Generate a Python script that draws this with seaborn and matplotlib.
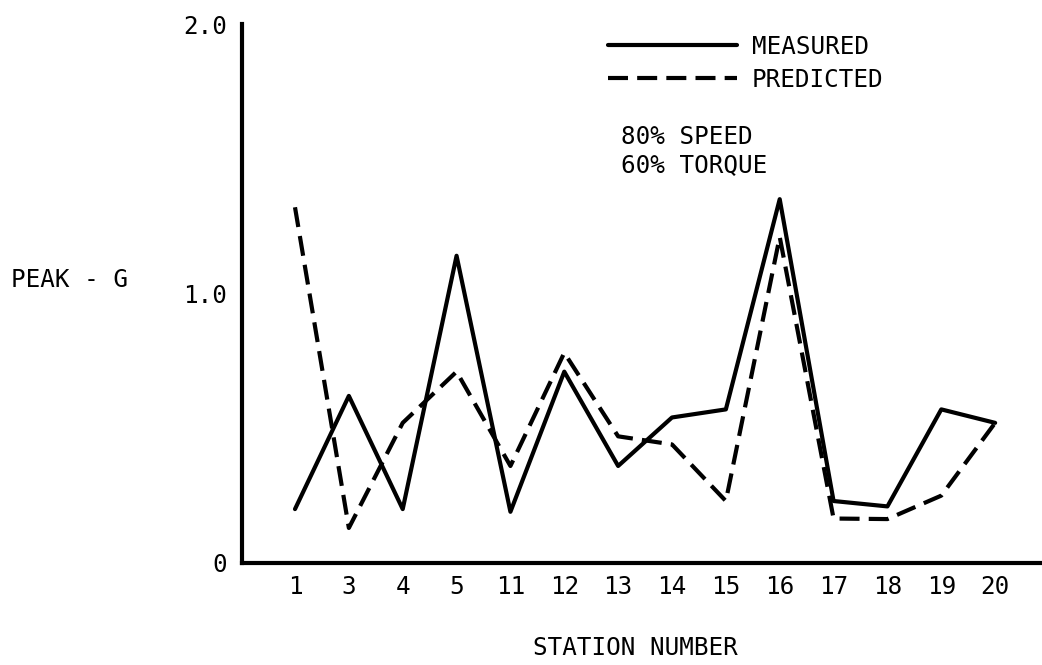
import numpy as np
import pandas as pd
import matplotlib
matplotlib.use("Agg")
import matplotlib.pyplot as plt
import seaborn as sns

stations = ["1", "3", "4", "5", "11", "12", "13", "14", "15", "16", "17", "18", "19", "20"]
measured = [0.20, 0.62, 0.20, 1.14, 0.19, 0.71, 0.36, 0.54, 0.57, 1.35, 0.23, 0.21, 0.57, 0.52]
predicted = [1.32, 0.13, 0.52, 0.71, 0.36, 0.78, 0.47, 0.44, 0.23, 1.21, 0.165, 0.163, 0.25, 0.52]
y_ticks = [0, 1.0, 2.0]
y_ticklabels = ["0", "1.0", "2.0"]

sns.set_style("white")
plt.rcParams["font.family"] = ["DejaVu Sans Mono", "DejaVu Sans"]
plt.rcParams["text.color"] = "black"
plt.rcParams["axes.labelcolor"] = "black"
plt.rcParams["xtick.color"] = "black"
plt.rcParams["ytick.color"] = "black"
FS = 17.5

pos = np.arange(len(stations))
df = pd.concat([
    pd.DataFrame({"pos": pos, "g": measured, "series": "MEASURED"}),
    pd.DataFrame({"pos": pos, "g": predicted, "series": "PREDICTED"}),
])

fig = plt.figure(figsize=(10.42, 6.65), dpi=100)
W, H = 1042, 665
ax = fig.add_axes([242 / W, (H - 563) / H, (1042 - 242) / W, (563 - 24) / H])

sns.lineplot(data=df, x="pos", y="g", style="series",
             dashes={"MEASURED": "", "PREDICTED": (4.8, 2.2)},
             color="black", lw=3, ax=ax, legend=True, sort=False)

ax.set_xlim(-0.984, 13.87)
ax.set_ylim(0, 2.0)
ax.set_xticks(pos)
ax.set_xticklabels(stations, fontsize=FS)
ax.set_yticks(y_ticks)
ax.set_yticklabels(y_ticklabels, fontsize=FS)
ax.tick_params(axis="x", direction="in", length=11.5, width=1.5, pad=9, colors="black")
ax.tick_params(axis="y", direction="in", length=12, width=1.5, pad=11, colors="black")
for s in ["top", "right"]:
    ax.spines[s].set_visible(False)
for s in ["left", "bottom"]:
    ax.spines[s].set_linewidth(3)
    ax.spines[s].set_color("black")

ax.set_xlabel("STATION NUMBER", fontsize=FS, color="black")
ax.xaxis.set_label_coords((635 - 242) / (1042 - 242), -(648 - 563) / (563 - 24))
ax.xaxis.label.set_va("center")
ax.set_ylabel("PEAK - G", fontsize=FS, rotation=0, ha="left", va="center", color="black")
ax.yaxis.set_label_coords((11 - 242) / (1042 - 242), (563 - 280) / (563 - 24))

handles, labels = ax.get_legend_handles_labels()
leg = ax.legend(handles, labels, loc="upper left",
                bbox_to_anchor=(608 / W, (H - 35) / H), bbox_transform=fig.transFigure,
                frameon=False, fontsize=FS, handlelength=5.3, handletextpad=0.62,
                labelspacing=0.35, borderpad=0, borderaxespad=0)
for line in leg.get_lines():
    line.set_linewidth(3)
for t in leg.get_texts():
    t.set_color("black")

fig.text(621 / W, (H - 137) / H, "80% SPEED", fontsize=FS, ha="left", va="center")
fig.text(621 / W, (H - 165) / H, "60% TORQUE", fontsize=FS, ha="left", va="center")

fig.savefig("out.png", dpi=100, facecolor="white")
